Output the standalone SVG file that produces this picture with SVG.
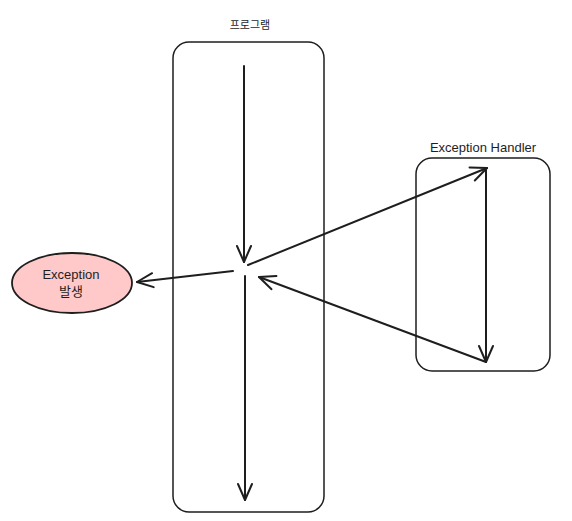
<svg xmlns="http://www.w3.org/2000/svg" width="572" height="521" viewBox="0 0 572 521">
<defs>
<marker id="ah" viewBox="0 0 20 20" refX="18" refY="10" markerWidth="20" markerHeight="20" markerUnits="userSpaceOnUse" orient="auto">
<path d="M2,3 L18,10 L2,17" fill="none" stroke="#1e1e1e" stroke-width="2" stroke-linecap="round" stroke-linejoin="round"/>
</marker>
</defs>
<style>
.box{fill:none;stroke:#1e1e1e;stroke-width:1.5}
.lbl{font-family:"Liberation Sans","Noto Sans CJK KR",sans-serif;font-size:11px;fill:#1e1e1e;text-anchor:middle}
.lg{font-size:13px}
.c{fill:none;stroke:#1e1e1e;stroke-width:2;stroke-linecap:round;marker-end:url(#ah)}
</style>
<rect width="572" height="521" fill="#ffffff"/>
<g id="program">
<rect class="box" x="173" y="42" width="151" height="470" rx="16"/>
<text class="lbl" x="250" y="29">프로그램</text>
</g>
<g id="handler">
<rect class="box" x="416" y="158" width="134" height="213" rx="16"/>
<text class="lbl lg" x="483" y="152">Exception Handler</text>
</g>
<g id="exception">
<ellipse cx="72" cy="283" rx="60" ry="30" fill="#ffc9c9" stroke="#1e1e1e" stroke-width="1.8"/>
<text class="lbl lg" x="71" y="279">Exception</text>
<text class="lbl lg" x="71" y="296">발생</text>
</g>
<g id="connectors">
<path class="c" d="M244,66 L244,262"/>
<path class="c" d="M248,265 L487,168"/>
<path class="c" d="M486,170 L486,362"/>
<path class="c" d="M486,362 L259,277"/>
<path class="c" d="M233,271 L137,282"/>
<path class="c" d="M245,276 L245,500"/>
</g>
</svg>
